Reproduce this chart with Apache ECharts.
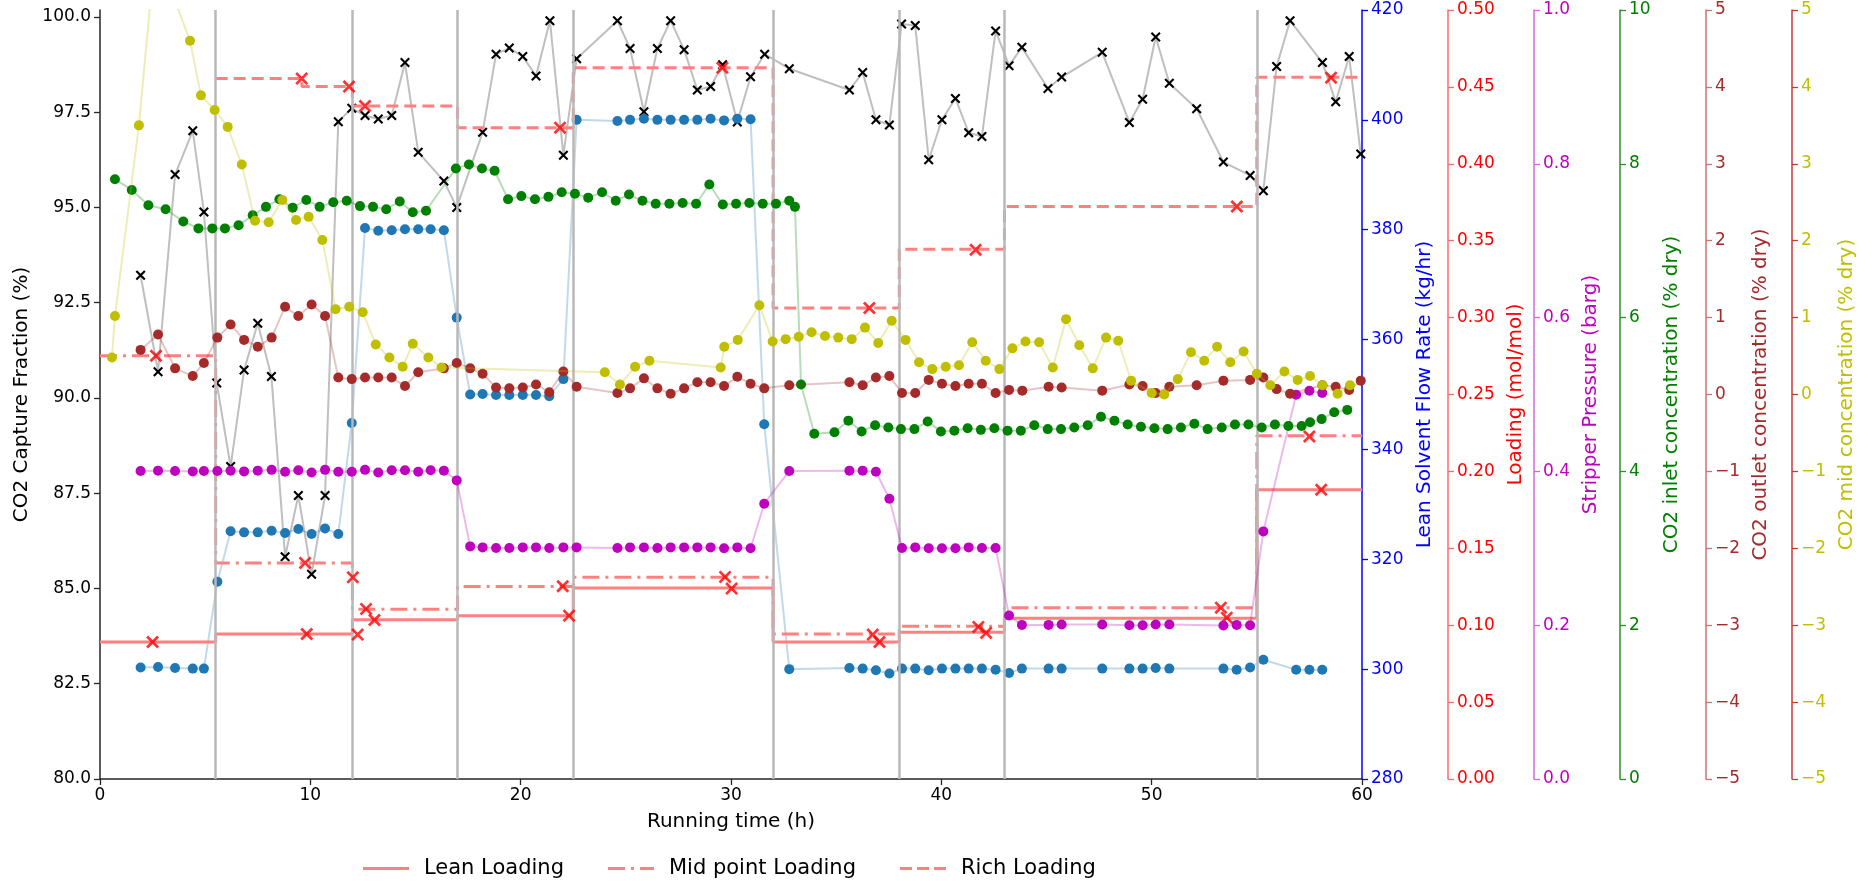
<!DOCTYPE html>
<html>
<head>
<meta charset="utf-8">
<script src="https://cdn.jsdelivr.net/npm/echarts@6/dist/echarts.min.js"></script>
<style>
  html, body { margin: 0; padding: 0; background: #ffffff; }
  #chart { width: 1874px; height: 881px; }
</style>
</head>
<body>
<div id="chart"></div>
<script>
// ---- Run boundaries and labels ----
const runBounds = [5.5, 12, 17, 22.5, 32, 38, 43, 55];
const runLabelX = [3, 9, 15, 20, 27, 35, 40, 49, 57];
const runNames = ['Run 1', 'Run 2', 'Run 3', 'Run 4', 'Run 5', 'Run 6', 'Run 7', 'Run 8', 'Run 9'];
const runLabelLevel = 81.1;

// ---- CO2 capture fraction (%) ----
const captureTime = [1.93, 2.76, 3.57, 4.41, 4.94, 5.55, 6.21, 6.85, 7.5, 8.15, 8.8, 9.43, 10.06, 10.7, 11.33, 11.97, 12.6, 13.23, 13.87, 14.5, 15.13, 16.35, 16.96, 18.19, 18.83, 19.46, 20.1, 20.73, 21.39, 22.03, 22.66, 24.6, 25.2, 25.86, 26.5, 27.13, 27.77, 28.4, 29.03, 29.6, 30.3, 30.93, 31.6, 32.77, 35.63, 36.26, 36.89, 37.53, 38.11, 38.76, 39.4, 40.03, 40.67, 41.3, 41.93, 42.58, 43.22, 43.83, 45.07, 45.72, 47.65, 48.94, 49.57, 50.19, 50.84, 52.14, 53.41, 54.68, 55.31, 55.94, 56.58, 58.12, 58.75, 59.39, 59.94];
const captureFraction = [93.22, 90.69, 95.86, 97.01, 94.88, 90.39, 88.20, 90.73, 91.96, 90.56, 85.83, 87.44, 85.37, 87.44, 97.25, 97.60, 97.41, 97.32, 97.41, 98.80, 96.45, 95.69, 95.00, 96.97, 99.02, 99.18, 98.96, 98.45, 99.90, 96.37, 98.90, 99.90, 99.17, 97.51, 99.17, 99.90, 99.14, 98.08, 98.17, 98.74, 97.24, 98.43, 99.02, 98.64, 98.08, 98.54, 97.30, 97.16, 99.81, 99.77, 96.25, 97.30, 97.86, 96.96, 96.86, 99.63, 98.72, 99.20, 98.12, 98.42, 99.07, 97.23, 97.84, 99.47, 98.26, 97.59, 96.19, 95.84, 95.44, 98.70, 99.90, 98.80, 97.77, 98.96, 96.40];

// ---- Lean solvent flow (kg/hr) and stripper pressure (barg), same sample times ----
const sampleTime = [1.93, 2.76, 3.57, 4.41, 4.94, 5.58, 6.21, 6.85, 7.5, 8.16, 8.8, 9.43, 10.06, 10.7, 11.33, 11.97, 12.6, 13.23, 13.87, 14.5, 15.13, 15.72, 16.35, 16.96, 17.6, 18.19, 18.83, 19.46, 20.1, 20.73, 21.36, 22.03, 22.66, 24.6, 25.2, 25.86, 26.5, 27.13, 27.77, 28.4, 29.03, 29.67, 30.3, 30.93, 31.58, 32.77, 35.63, 36.26, 36.89, 37.53, 38.13, 38.76, 39.4, 40.03, 40.67, 41.3, 41.93, 42.58, 43.22, 43.83, 45.1, 45.72, 47.65, 48.94, 49.57, 50.19, 50.84, 53.41, 54.04, 54.68, 55.31, 56.87, 57.5, 58.11];
const leanFlow = [300.3, 300.4, 300.2, 300.1, 300.1, 315.9, 325.1, 324.9, 324.9, 325.2, 324.8, 325.5, 324.6, 325.6, 324.6, 344.8, 380.3, 379.8, 379.9, 380.1, 380.1, 380.1, 379.9, 364.0, 350.0, 350.1, 349.9, 349.9, 349.9, 349.9, 349.7, 352.8, 400.0, 399.8, 400.0, 400.2, 400.0, 400.0, 400.0, 400.0, 400.2, 399.9, 400.2, 400.1, 344.6, 300.0, 300.2, 300.1, 299.8, 299.2, 300.1, 300.1, 299.8, 300.1, 300.1, 300.1, 300.1, 299.9, 299.3, 300.1, 300.1, 300.1, 300.1, 300.1, 300.1, 300.2, 300.1, 300.1, 299.9, 300.3, 301.7, 299.9, 299.9, 299.9];
const stripperPressure = [0.4005, 0.401, 0.4005, 0.400, 0.4005, 0.4005, 0.401, 0.400, 0.401, 0.402, 0.3995, 0.4015, 0.3985, 0.402, 0.3995, 0.3995, 0.402, 0.3985, 0.4015, 0.4015, 0.3995, 0.4015, 0.401, 0.3883, 0.3025, 0.3012, 0.3004, 0.3004, 0.3012, 0.3012, 0.3004, 0.3012, 0.3012, 0.3004, 0.3012, 0.3012, 0.3004, 0.3012, 0.3012, 0.3012, 0.3012, 0.300, 0.3012, 0.300, 0.358, 0.4005, 0.401, 0.401, 0.3995, 0.3645, 0.3004, 0.3012, 0.300, 0.300, 0.300, 0.3012, 0.3004, 0.3004, 0.2125, 0.2004, 0.2004, 0.2008, 0.2008, 0.200, 0.200, 0.2008, 0.2008, 0.1995, 0.2004, 0.200, 0.322, 0.4997, 0.5049, 0.502];

// ---- CO2 inlet concentration (% dry) ----
const inletTime = [0.71, 1.51, 2.3, 3.12, 3.96, 4.68, 5.34, 5.94, 6.59, 7.26, 7.89, 8.53, 9.16, 9.81, 10.44, 11.09, 11.73, 12.36, 12.98, 13.61, 14.25, 14.87, 15.5, 16.92, 17.54, 18.16, 18.76, 19.4, 20.03, 20.68, 21.32, 21.95, 22.58, 23.21, 23.87, 24.52, 25.15, 25.79, 26.42, 27.07, 27.7, 28.34, 28.97, 29.61, 30.24, 30.87, 31.51, 32.14, 32.77, 33.04, 33.33, 33.96, 34.92, 35.58, 36.21, 36.85, 37.48, 38.08, 38.72, 39.35, 39.98, 40.62, 41.25, 41.88, 42.52, 43.15, 43.78, 44.42, 45.06, 45.69, 46.32, 46.96, 47.59, 48.23, 48.86, 49.49, 50.13, 50.76, 51.39, 52.03, 52.66, 53.33, 53.96, 54.6, 55.23, 55.86, 56.5, 57.13, 57.53, 58.08, 58.68, 59.3];
const inletCO2 = [7.80, 7.66, 7.46, 7.41, 7.25, 7.16, 7.16, 7.16, 7.20, 7.33, 7.44, 7.54, 7.43, 7.53, 7.44, 7.50, 7.52, 7.45, 7.44, 7.41, 7.51, 7.37, 7.39, 7.94, 7.99, 7.94, 7.91, 7.54, 7.58, 7.54, 7.57, 7.63, 7.61, 7.56, 7.63, 7.52, 7.60, 7.52, 7.48, 7.48, 7.49, 7.48, 7.73, 7.47, 7.48, 7.49, 7.48, 7.48, 7.52, 7.44, 5.13, 4.49, 4.51, 4.66, 4.52, 4.60, 4.57, 4.55, 4.55, 4.65, 4.52, 4.53, 4.56, 4.54, 4.56, 4.53, 4.53, 4.60, 4.55, 4.55, 4.57, 4.60, 4.71, 4.66, 4.61, 4.58, 4.56, 4.55, 4.57, 4.62, 4.55, 4.57, 4.61, 4.61, 4.57, 4.61, 4.59, 4.59, 4.64, 4.68, 4.77, 4.80];

// ---- CO2 outlet concentration (% dry) ----
const outletTime = [1.93, 2.76, 3.57, 4.41, 4.94, 5.58, 6.21, 6.85, 7.5, 8.16, 8.8, 9.43, 10.06, 10.7, 11.33, 11.97, 12.6, 13.23, 13.87, 14.5, 15.13, 16.35, 16.96, 17.6, 18.19, 18.83, 19.46, 20.1, 20.73, 21.36, 22.03, 22.66, 24.6, 25.2, 25.86, 26.5, 27.13, 27.77, 28.4, 29.03, 29.67, 30.3, 30.93, 31.58, 32.77, 35.63, 36.26, 36.89, 37.53, 38.13, 38.76, 39.4, 40.03, 40.67, 41.3, 41.93, 42.58, 43.22, 43.85, 45.1, 45.72, 47.65, 48.94, 49.57, 50.19, 50.84, 52.14, 53.41, 54.68, 55.31, 55.94, 56.58, 58.12, 58.75, 59.39, 59.94];
const outletCO2 = [0.58, 0.78, 0.34, 0.24, 0.41, 0.74, 0.91, 0.71, 0.62, 0.74, 1.14, 1.02, 1.17, 1.02, 0.22, 0.20, 0.22, 0.22, 0.22, 0.11, 0.29, 0.34, 0.41, 0.34, 0.27, 0.09, 0.08, 0.09, 0.13, 0.03, 0.30, 0.10, 0.02, 0.08, 0.21, 0.08, 0.01, 0.08, 0.16, 0.16, 0.11, 0.23, 0.14, 0.08, 0.12, 0.16, 0.12, 0.22, 0.24, 0.02, 0.02, 0.19, 0.14, 0.11, 0.14, 0.14, 0.02, 0.06, 0.05, 0.10, 0.09, 0.05, 0.13, 0.11, 0.02, 0.10, 0.12, 0.18, 0.19, 0.22, 0.07, 0.01, 0.12, 0.10, 0.06, 0.18];

// ---- CO2 mid concentration (% dry) ----
const midTime = [0.57, 0.71, 1.85, 2.63, 4.28, 4.8, 5.45, 6.07, 6.74, 7.37, 8.02, 8.67, 9.32, 9.92, 10.57, 11.2, 11.85, 12.49, 13.11, 13.76, 14.39, 14.87, 15.61, 16.24, 24.0, 24.72, 25.44, 26.12, 29.51, 29.68, 30.32, 31.35, 31.98, 32.6, 33.22, 33.83, 34.47, 35.1, 35.74, 36.37, 37.0, 37.64, 38.3, 38.94, 39.57, 40.21, 40.84, 41.47, 42.11, 42.76, 43.38, 44.0, 44.65, 45.3, 45.93, 46.56, 47.2, 47.83, 48.41, 49.02, 50.0, 50.6, 51.24, 51.87, 52.5, 53.11, 53.74, 54.37, 55.0, 55.64, 56.31, 56.94, 57.53, 58.12, 58.84, 59.43];
const midCO2 = [0.48, 1.02, 3.50, 5.80, 4.60, 3.89, 3.70, 3.48, 2.99, 2.26, 2.24, 2.53, 2.27, 2.31, 2.01, 1.11, 1.14, 1.07, 0.65, 0.48, 0.36, 0.66, 0.48, 0.35, 0.29, 0.13, 0.36, 0.44, 0.35, 0.62, 0.71, 1.16, 0.69, 0.72, 0.75, 0.81, 0.76, 0.74, 0.72, 0.87, 0.67, 0.96, 0.71, 0.42, 0.33, 0.36, 0.38, 0.68, 0.44, 0.33, 0.60, 0.69, 0.68, 0.35, 0.98, 0.64, 0.34, 0.74, 0.70, 0.18, 0.02, 0.00, 0.20, 0.55, 0.44, 0.62, 0.42, 0.56, 0.27, 0.12, 0.30, 0.19, 0.24, 0.12, 0.01, 0.12];

// ---- Loading (mol/mol): step levels per run ----
const leanStepTime = [0, 5.5, 12, 17, 22.5, 32, 38, 43, 55, 60];
const leanLoading = [0.0891, 0.0943, 0.1036, 0.1062, 0.1242, 0.0891, 0.0954, 0.1045, 0.1881, 0.1881];
const midStepTime = [0, 5.5, 12, 17, 22.5, 32, 38, 43, 55, 60];
const midLoading = [0.2752, 0.1405, 0.1103, 0.1251, 0.1311, 0.0943, 0.0993, 0.1114, 0.2232, 0.2232];
const richStepTime = [5.5, 9.6, 12, 17, 22.5, 32, 38, 43, 55, 60];
const richLoading = [0.4554, 0.4502, 0.4376, 0.4235, 0.4625, 0.3062, 0.3445, 0.3722, 0.4563, 0.4563];

// ---- Loading samples (mol/mol) ----
const loadingSampleTime = [2.5, 2.66, 9.59, 9.75, 9.83, 11.84, 12.02, 12.25, 12.6, 12.65, 13.05, 21.87, 22.0, 22.3, 29.59, 29.72, 30.03, 36.58, 36.74, 37.06, 41.63, 41.76, 42.13, 53.29, 53.57, 54.05, 57.5, 58.06, 58.53];
const loadingSample = [0.0891, 0.2752, 0.4554, 0.1405, 0.0943, 0.4502, 0.1311, 0.0939, 0.4376, 0.1106, 0.1034, 0.4235, 0.1253, 0.1062, 0.4625, 0.1314, 0.1238, 0.3062, 0.0939, 0.0891, 0.3441, 0.0989, 0.0950, 0.1114, 0.1049, 0.3722, 0.2227, 0.1881, 0.4560];

// ---- Axis tick values ----
const captureTicks = [80, 82.5, 85, 87.5, 90, 92.5, 95, 97.5, 100];

const zip = (xs, ys) => xs.map((x, i) => [x, ys[i]]);
const FONT = 'DejaVu Sans';
const CROSS = 'path://M0,1.5L1.5,0L5,3.5L8.5,0L10,1.5L6.5,5L10,8.5L8.5,10L5,6.5L1.5,10L0,8.5L3.5,5Z';
const minus = v => String(v).replace('-', '\u2212');

// legend glyphs: solid, dash-dot and dashed strokes
const ICON_SOLID = 'path://M0,0H46V3H0Z';
const ICON_DASHDOT = 'path://M0,0H17V3H0Z M23,0H26V3H23Z M32,0H46V3H32Z';
const ICON_DASHED = 'path://M0,0H12V3H0Z M17,0H29V3H17Z M34,0H46V3H34Z';

function rightAxis(opts) {
  return {
    type: 'value',
    position: 'right',
    offset: opts.offset,
    min: opts.min,
    max: opts.max,
    interval: opts.interval,
    axisLine: { show: true, onZero: false, lineStyle: { color: opts.spine, width: 1.5 } },
    axisTick: { show: true, length: 6, lineStyle: { color: opts.spine, width: 1.3 } },
    axisLabel: { color: opts.color, fontSize: 17, fontFamily: FONT, margin: 9, formatter: opts.formatter },
    splitLine: { show: false },
    name: opts.name,
    nameLocation: 'middle',
    nameRotate: 90,
    nameGap: opts.gap,
    nameTextStyle: { color: opts.color, fontSize: 20, fontFamily: FONT }
  };
}

function dotSeries(name, xs, ys, axis, color, z) {
  return {
    name, type: 'line', yAxisIndex: axis, data: zip(xs, ys),
    symbol: 'circle', symbolSize: 10, showAllSymbol: true, clip: true,
    itemStyle: { color: color },
    lineStyle: { color: color, width: 2, opacity: 0.28 },
    z: z
  };
}

function stepSeries(name, xs, ys, dash) {
  return {
    name, type: 'line', yAxisIndex: 2, data: zip(xs, ys), step: 'end',
    symbol: 'none', clip: true,
    itemStyle: { color: '#ff8080' },
    lineStyle: { color: '#ff8080', width: 3, type: dash },
    z: 4
  };
}

const chart = echarts.init(document.getElementById('chart'), null, { renderer: 'canvas' });

chart.setOption({
  animation: false,
  backgroundColor: '#ffffff',
  textStyle: { fontFamily: FONT },
  grid: { left: 100, top: 10, right: 512, bottom: 102, containLabel: false },
  legend: {
    data: [
      { name: 'Lean Loading', icon: ICON_SOLID },
      { name: 'Mid point Loading', icon: ICON_DASHDOT },
      { name: 'Rich Loading', icon: ICON_DASHED }
    ],
    left: 358, top: 853,
    itemWidth: 46, itemHeight: 3, itemGap: 44,
    itemStyle: { color: '#ff8080', borderWidth: 0 },
    lineStyle: { width: 0 },
    textStyle: { fontSize: 21, color: '#000', fontFamily: FONT, padding: [0, 0, 0, 10] }
  },
  xAxis: {
    type: 'value', min: 0, max: 60, interval: 10,
    axisLine: { show: true, onZero: false, lineStyle: { color: '#262626', width: 1.5 } },
    axisTick: { show: true, length: 6, lineStyle: { color: '#262626', width: 1.3 } },
    axisLabel: { fontSize: 17, color: '#000', margin: 8, fontFamily: FONT },
    splitLine: { show: false },
    name: 'Running time (h)', nameLocation: 'middle', nameGap: 33,
    nameTextStyle: { fontSize: 20, color: '#000', fontFamily: FONT }
  },
  yAxis: [
    {
      type: 'value', position: 'left', min: 80, max: 100.18,
      axisLine: { show: true, onZero: false, lineStyle: { color: '#262626', width: 1.5 } },
      axisTick: { show: true, length: 6, customValues: captureTicks, lineStyle: { color: '#262626', width: 1.3 } },
      axisLabel: { customValues: captureTicks, fontSize: 17, color: '#000', margin: 9, fontFamily: FONT, formatter: v => v.toFixed(1) },
      splitLine: { show: false },
      name: 'CO2 Capture Fraction (%)', nameLocation: 'middle', nameRotate: 90, nameGap: 66,
      nameTextStyle: { fontSize: 20, color: '#000', fontFamily: FONT }
    },
    rightAxis({ offset: 0, min: 280, max: 420, interval: 20, color: '#0000ff', spine: '#0000ff', name: 'Lean Solvent Flow Rate (kg/hr)', gap: 49 }),
    rightAxis({ offset: 86, min: 0, max: 0.5, interval: 0.05, color: '#ff0000', spine: '#ff6a6a', name: 'Loading (mol/mol)', gap: 52, formatter: v => v.toFixed(2) }),
    rightAxis({ offset: 172, min: 0, max: 1, interval: 0.2, color: '#bf00bf', spine: '#d36ad8', name: 'Stripper Pressure (barg)', gap: 43, formatter: v => v.toFixed(1) }),
    rightAxis({ offset: 258, min: 0, max: 10, interval: 2, color: '#008000', spine: '#2b8f2b', name: 'CO2 inlet concentration (% dry)', gap: 38 }),
    rightAxis({ offset: 344, min: -5, max: 5, interval: 1, color: '#a52a2a', spine: '#cc7272', name: 'CO2 outlet concentration (% dry)', gap: 40, formatter: minus }),
    rightAxis({ offset: 430, min: -5, max: 5, interval: 1, color: '#bfbf00', spine: '#c83a3a', name: 'CO2 mid concentration (% dry)', gap: 44, formatter: minus })
  ],
  series: [
    {
      name: 'CO2 Capture Fraction', type: 'line', yAxisIndex: 0, data: zip(captureTime, captureFraction),
      symbol: CROSS, symbolSize: 10, showAllSymbol: true, clip: true,
      itemStyle: { color: '#000000' },
      lineStyle: { color: '#808080', width: 2, opacity: 0.5 },
      z: 2,
      markLine: {
        silent: true, symbol: ['none', 'none'], animation: false,
        label: { show: false },
        lineStyle: { color: '#b8b8b8', width: 2.5, type: 'solid' },
        data: runBounds.map(x => ({ xAxis: x }))
      }
    },
    {
      name: 'Run labels', type: 'scatter', yAxisIndex: 0,
      data: runLabelX.map((x, i) => [x, runLabelLevel, runNames[i]]),
      symbolSize: 1, itemStyle: { opacity: 0 }, silent: true,
      label: { show: true, position: 'inside', formatter: p => p.data[2], fontSize: 14, color: '#000', fontFamily: FONT },
      z: 2
    },
    dotSeries('Lean Solvent Flow Rate', sampleTime, leanFlow, 1, '#1f77b4', 3),
    stepSeries('Lean Loading', leanStepTime, leanLoading, 'solid'),
    stepSeries('Mid point Loading', midStepTime, midLoading, [17, 6, 3, 6]),
    stepSeries('Rich Loading', richStepTime, richLoading, [12, 6]),
    {
      name: 'Loading samples', type: 'scatter', yAxisIndex: 2, data: zip(loadingSampleTime, loadingSample),
      symbol: CROSS, symbolSize: 13, itemStyle: { color: '#ff0000' }, z: 5
    },
    dotSeries('Stripper Pressure', sampleTime, stripperPressure, 3, '#bf00bf', 6),
    dotSeries('CO2 inlet', inletTime, inletCO2, 4, '#008000', 7),
    dotSeries('CO2 outlet', outletTime, outletCO2, 5, '#a52a2a', 8),
    dotSeries('CO2 mid', midTime, midCO2, 6, '#bfbf00', 9)
  ]
});
</script>
</body>
</html>
